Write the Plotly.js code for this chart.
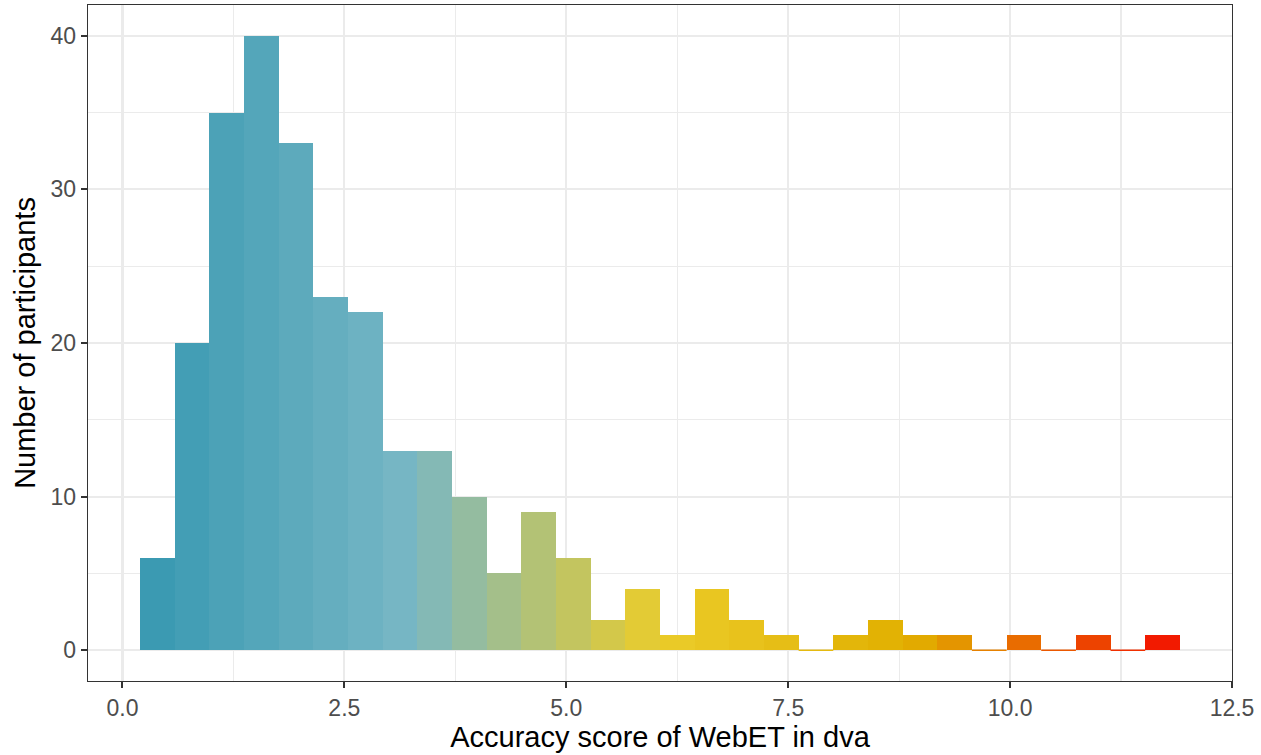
<!DOCTYPE html>
<html>
<head>
<meta charset="utf-8">
<script src="https://cdn.plot.ly/plotly-3.0.1.min.js"></script>
<style>html,body{margin:0;padding:0;background:#fff;}#chart{width:1261px;height:755px;}</style>
</head>
<body>
<div id="chart"></div>
<script>
// Histogram data (30 bins)
const binStart = 0.198;
const binWidth = 0.3905;
const counts = [6, 20, 35, 40, 33, 23, 22, 13, 13, 10, 5, 9, 6, 2, 4, 1, 4, 2, 1, 0, 1, 2, 1, 1, 0, 1, 0, 1, 0, 1];
const palette = ["#3B9AB2", "#78B7C5", "#EBCC2A", "#E1AF00", "#F21A00"];
const xTicks = [0, 2.5, 5, 7.5, 10, 12.5];
const yTicks = [0, 10, 20, 30, 40];

function hex2rgb(h){return [parseInt(h.slice(1,3),16),parseInt(h.slice(3,5),16),parseInt(h.slice(5,7),16)];}
function gradient(t){
  const n = palette.length - 1;
  let s = Math.min(Math.floor(t*n), n-1);
  const f = t*n - s;
  const a = hex2rgb(palette[s]), b = hex2rgb(palette[s+1]);
  const c = a.map((v,i)=>Math.round(v + (b[i]-v)*f));
  return `rgb(${c[0]},${c[1]},${c[2]})`;
}

const centers = counts.map((_, i) => binStart + (i + 0.5) * binWidth);
const cMin = centers[0], cMax = centers[centers.length-1];
const colors = centers.map(c => gradient((c - cMin) / (cMax - cMin)));

const traces = [{
  type: 'bar',
  x: centers,
  y: counts,
  width: counts.map(() => binWidth),
  marker: {color: colors, line: {width: 0}},
  hoverinfo: 'x+y',
  showlegend: false
}];
// zero-count bins drawn as a thin line at the baseline
counts.forEach((v, i) => {
  if (v === 0) {
    traces.push({
      type: 'scatter', mode: 'lines',
      x: [centers[i] - binWidth/2, centers[i] + binWidth/2],
      y: [v, v],
      line: {color: colors[i], width: 1.5},
      hoverinfo: 'skip', showlegend: false
    });
  }
});

const font = 'Liberation Sans, Arial, sans-serif';
const layout = {
  width: 1261, height: 755,
  margin: {l: 88, r: 29, t: 5, b: 74},
  paper_bgcolor: '#fff', plot_bgcolor: '#fff',
  bargap: 0,
  font: {family: font},
  xaxis: {
    range: [-0.388, 12.5],
    tickvals: xTicks,
    ticktext: xTicks.map(v => v.toFixed(1)),
    showgrid: true, gridcolor: '#EBEBEB', gridwidth: 2.2,
    minor: {dtick: 1.25, tick0: 0, showgrid: true, gridcolor: '#EBEBEB', gridwidth: 1.1, ticks: ''},
    zeroline: false,
    showline: true, mirror: true, linecolor: '#333333', linewidth: 1.4,
    ticks: 'outside', ticklen: 6, tickwidth: 2, tickcolor: '#333333',
    tickfont: {family: font, size: 23, color: '#4D4D4D'},
    title: {text: 'Accuracy score of WebET in dva', font: {family: font, size: 29, color: '#000'}, standoff: 6},
    automargin: false
  },
  yaxis: {
    range: [-2, 42],
    tickvals: yTicks,
    showgrid: true, gridcolor: '#EBEBEB', gridwidth: 2.2,
    minor: {dtick: 5, tick0: 0, showgrid: true, gridcolor: '#EBEBEB', gridwidth: 1.1, ticks: ''},
    zeroline: false,
    showline: true, mirror: true, linecolor: '#333333', linewidth: 1.4,
    ticks: 'outside', ticklen: 6, tickwidth: 2, tickcolor: '#333333',
    tickfont: {family: font, size: 23, color: '#4D4D4D'},
    title: {text: 'Number of participants', font: {family: font, size: 29, color: '#000'}, standoff: 6},
    automargin: false
  }
};

Plotly.newPlot('chart', traces, layout, {staticPlot: true, displayModeBar: false});
</script>
</body>
</html>
